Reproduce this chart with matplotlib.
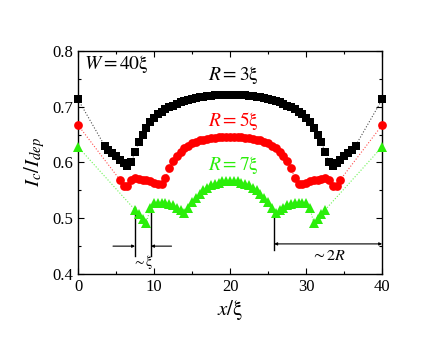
import numpy as np
import matplotlib
matplotlib.use('Agg')
import matplotlib.pyplot as plt

plt.rcParams['font.family'] = ['Liberation Serif', 'DejaVu Serif']
plt.rcParams['mathtext.fontset'] = 'stix'

# data (x in units of xi)
x_black = np.arange(3.5, 36.6, 0.5)
y_black = [0.630, 0.623, 0.617, 0.611, 0.605, 0.599, 0.594, 0.600, 0.619, 0.636,
           0.650, 0.662, 0.672, 0.680, 0.686, 0.691, 0.695, 0.699, 0.702, 0.705,
           0.708, 0.710, 0.712, 0.714, 0.715, 0.717, 0.718, 0.719, 0.719, 0.720,
           0.720, 0.721, 0.721, 0.721,
           0.721, 0.721, 0.720, 0.720, 0.719, 0.719, 0.718, 0.717, 0.715, 0.714,
           0.712, 0.710, 0.708, 0.705, 0.702, 0.699, 0.695, 0.691, 0.686, 0.680,
           0.672, 0.662, 0.650, 0.636, 0.619, 0.600, 0.594, 0.599, 0.605, 0.611,
           0.617, 0.623, 0.630]
x_red = np.arange(5.5, 34.6, 0.5)
y_red = [0.569, 0.558, 0.557, 0.569, 0.572, 0.571, 0.569, 0.568, 0.566, 0.564,
         0.562, 0.561, 0.572, 0.590, 0.602, 0.612, 0.619, 0.625, 0.630, 0.634,
         0.637, 0.640, 0.641, 0.642, 0.643, 0.644, 0.645, 0.645, 0.646, 0.646,
         0.646, 0.645, 0.645, 0.644, 0.643, 0.642, 0.641, 0.640, 0.637, 0.634,
         0.630, 0.625, 0.619, 0.612, 0.602, 0.590, 0.572, 0.561, 0.562, 0.564,
         0.566, 0.568, 0.569, 0.571, 0.572, 0.569, 0.557, 0.558, 0.569]
x_green = np.arange(7.5, 32.6, 0.5)
y_green = [0.515, 0.507, 0.499, 0.492, 0.518, 0.527, 0.528, 0.528, 0.527, 0.526,
           0.523, 0.519, 0.514, 0.510, 0.519, 0.529, 0.537, 0.544, 0.550, 0.555,
           0.559, 0.562, 0.564, 0.566, 0.567, 0.567,
           0.567, 0.566, 0.564, 0.562, 0.559, 0.555, 0.550, 0.544, 0.537, 0.529,
           0.519, 0.510, 0.514, 0.519, 0.523, 0.526, 0.527, 0.528, 0.528, 0.527,
           0.518, 0.492, 0.499, 0.507, 0.515]
# values at the strip edges x = 0 and x = 40
edge_x = [0, 40]
edge_black = [0.713, 0.713]
edge_red = [0.667, 0.667]
edge_green = [0.628, 0.628]

green = '#2bee0a'

fig = plt.figure(figsize=(4.32, 3.46), dpi=100)
ax = fig.add_axes([0.1806, 0.208, 0.704, 0.645])

series = [
    (x_black, y_black, edge_black, 'black', 's', 5.5),
    (x_red, y_red, edge_red, 'red', 'o', 6.3),
    (x_green, y_green, edge_green, green, '^', 7.0),
]
for xs, ys, edge, c, m, ms in series:
    xx = np.concatenate([[edge_x[0]], xs, [edge_x[1]]])
    yy = np.concatenate([[edge[0]], ys, [edge[1]]])
    ax.plot(xx, yy, ':', color=c, lw=0.8, alpha=0.7)
    ax.plot(xx, yy, ls='none', marker=m, color=c, ms=ms, mec=c, mew=0,
            clip_on=False, zorder=3)

# annotations
ax.plot([7.5, 7.5], [0.432, 0.521], color='black', lw=1.0)
ax.plot([9.6, 9.6], [0.432, 0.521], color='black', lw=1.0)
arr = dict(arrowstyle='-|>', lw=0.8, color='black', mutation_scale=4, shrinkA=0, shrinkB=0)
ax.annotate('', xy=(7.5, 0.45), xytext=(4.6, 0.45), arrowprops=arr)
ax.annotate('', xy=(9.6, 0.45), xytext=(12.3, 0.45), arrowprops=arr)
ax.text(8.5, 0.421, r'$\sim\mathrm{\xi}$', fontsize=10, ha='center', va='center')

ax.plot([25.8, 25.8], [0.443, 0.51], color='black', lw=1.0)
arr2 = dict(arrowstyle='<|-|>', lw=0.8, color='black', mutation_scale=4, shrinkA=0, shrinkB=0)
ax.annotate('', xy=(25.8, 0.454), xytext=(40, 0.454), arrowprops=arr2)
ax.text(32.9, 0.432, r'$\sim 2R$', fontsize=11.5, ha='center', va='center')

ax.text(0.8, 0.777, r'$W = 40\mathrm{\xi}$', fontsize=14, ha='left', va='center')
ax.text(20.4, 0.756, r'$R = 3\mathrm{\xi}$', fontsize=14, ha='center', va='center', color='black')
ax.text(20.4, 0.674, r'$R = 5\mathrm{\xi}$', fontsize=14, ha='center', va='center', color='red')
ax.text(20.4, 0.596, r'$R = 7\mathrm{\xi}$', fontsize=14, ha='center', va='center', color=green)

ax.set_xlim(0, 40)
ax.set_ylim(0.4, 0.8)
ax.set_xticks([0, 10, 20, 30, 40])
ax.set_xticks([5, 15, 25, 35], minor=True)
ax.set_yticks([0.4, 0.5, 0.6, 0.7, 0.8])
ax.set_yticks([0.45, 0.55, 0.65, 0.75], minor=True)
ax.tick_params(which='both', direction='in', top=True, right=True, labelsize=12, width=0.8)
ax.tick_params(which='major', length=4)
ax.tick_params(which='minor', length=2.5)
for s in ax.spines.values():
    s.set_linewidth(1.0)

ax.set_xlabel(r'$x/\mathrm{\xi}$', fontsize=15, labelpad=2)
ax.set_ylabel(r'$I_c/I_{dep}$', fontsize=15, labelpad=4)

fig.savefig('out.png', dpi=100)
